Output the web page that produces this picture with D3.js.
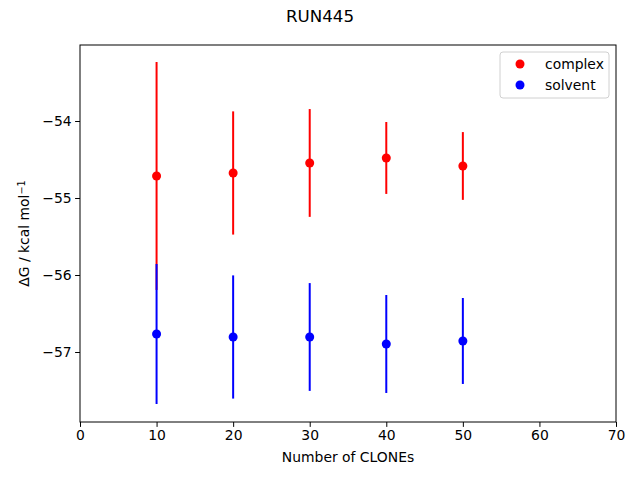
<!DOCTYPE html>
<html>
<head>
<meta charset="utf-8">
<script src="https://cdnjs.cloudflare.com/ajax/libs/d3/7.8.5/d3.min.js"></script>
<style>
  body { margin: 0; background: #fff; }
  text { font-family: "DejaVu Sans", sans-serif; fill: #000; }
</style>
</head>
<body>
<script>
// values
var clones = [10, 20, 30, 40, 50];
var complexMean = [-54.714, -54.675, -54.545, -54.48, -54.584];
var complexErr = [1.48, 0.80, 0.70, 0.467, 0.44];
var solventMean = [-56.766, -56.805, -56.805, -56.896, -56.857];
var solventErr = [0.909, 0.80, 0.70, 0.636, 0.558];
var xTicks = [0, 10, 20, 30, 40, 50, 60, 70];
var yTicks = [-57, -56, -55, -54];

var margin = {top: 45, right: 24, bottom: 58, left: 80},
    width = 640 - margin.left - margin.right,
    height = 480 - margin.top - margin.bottom;

var svg = d3.select("body").append("svg")
    .attr("width", 640)
    .attr("height", 480);

svg.append("text")
    .attr("x", 320)
    .attr("y", 22)
    .attr("text-anchor", "middle")
    .style("font-size", "16.7px")
    .text("RUN445");

var g = svg.append("g")
    .attr("transform", "translate(" + margin.left + "," + margin.top + ")");

var x = d3.scaleLinear().domain([0, 70]).range([0, width]);
var y = d3.scaleLinear().domain([-57.909, -53.013]).range([height, 0]);

// series: complex first, solvent on top
var series = [
  {name: "complex", color: "#ff0000", mean: complexMean, err: complexErr},
  {name: "solvent", color: "#0000ff", mean: solventMean, err: solventErr}
];

series.forEach(function(s) {
  var pts = clones.map(function(c, i) {
    return {x: c, y: s.mean[i], e: s.err[i]};
  });
  g.selectAll(null)
      .data(pts)
      .enter()
      .append("line")
      .attr("x1", function(d) { return x(d.x); })
      .attr("x2", function(d) { return x(d.x); })
      .attr("y1", function(d) { return y(d.y - d.e); })
      .attr("y2", function(d) { return y(d.y + d.e); })
      .attr("stroke", s.color)
      .attr("stroke-width", 2);
  g.selectAll(null)
      .data(pts)
      .enter()
      .append("circle")
      .attr("cx", function(d) { return x(d.x); })
      .attr("cy", function(d) { return y(d.y); })
      .attr("r", 4.5)
      .attr("fill", s.color);
});

// axes
var xAxis = d3.axisBottom(x).tickValues(xTicks).tickSize(4.9).tickPadding(3.5);
var yAxis = d3.axisLeft(y).tickValues(yTicks).tickSize(4.9).tickPadding(3.5)
    .tickFormat(function(d) { return "\u2212" + Math.abs(d); });

g.append("g")
    .attr("transform", "translate(0," + height + ")")
    .call(xAxis)
    .call(function(a) { a.select(".domain").remove(); })
    .selectAll("text").style("font-size", "13.9px");

g.append("g")
    .call(yAxis)
    .call(function(a) { a.select(".domain").remove(); })
    .selectAll("text").style("font-size", "13.9px");

g.selectAll(".tick line").attr("stroke", "#000").attr("stroke-width", 1);

g.append("rect")
    .attr("width", width)
    .attr("height", height)
    .attr("fill", "none")
    .attr("stroke", "#000")
    .attr("stroke-width", 1);

// axis labels
svg.append("text")
    .attr("x", margin.left + width / 2)
    .attr("y", 462)
    .attr("text-anchor", "middle")
    .style("font-size", "13.9px")
    .text("Number of CLONEs");

var yl = svg.append("text")
    .attr("transform", "translate(29," + (margin.top + height / 2) + ") rotate(-90)")
    .attr("text-anchor", "middle")
    .style("font-size", "13.9px");
yl.append("tspan").text("\u0394G / kcal mol");
yl.append("tspan").attr("dy", "-0.45em").style("font-size", "9.7px").text("\u22121");

// legend
var lg = svg.append("g").attr("transform", "translate(500,52)");
lg.append("rect")
    .attr("width", 109)
    .attr("height", 46)
    .attr("rx", 3)
    .attr("fill", "#fff")
    .attr("stroke", "#d0d0d0")
    .attr("stroke-width", 1);
series.forEach(function(s, i) {
  lg.append("circle")
      .attr("cx", 20)
      .attr("cy", 12 + i * 21)
      .attr("r", 4.5)
      .attr("fill", s.color);
  lg.append("text")
      .attr("x", 45)
      .attr("y", 12 + i * 21)
      .attr("dy", "0.35em")
      .style("font-size", "13.9px")
      .text(s.name);
});
</script>
</body>
</html>
